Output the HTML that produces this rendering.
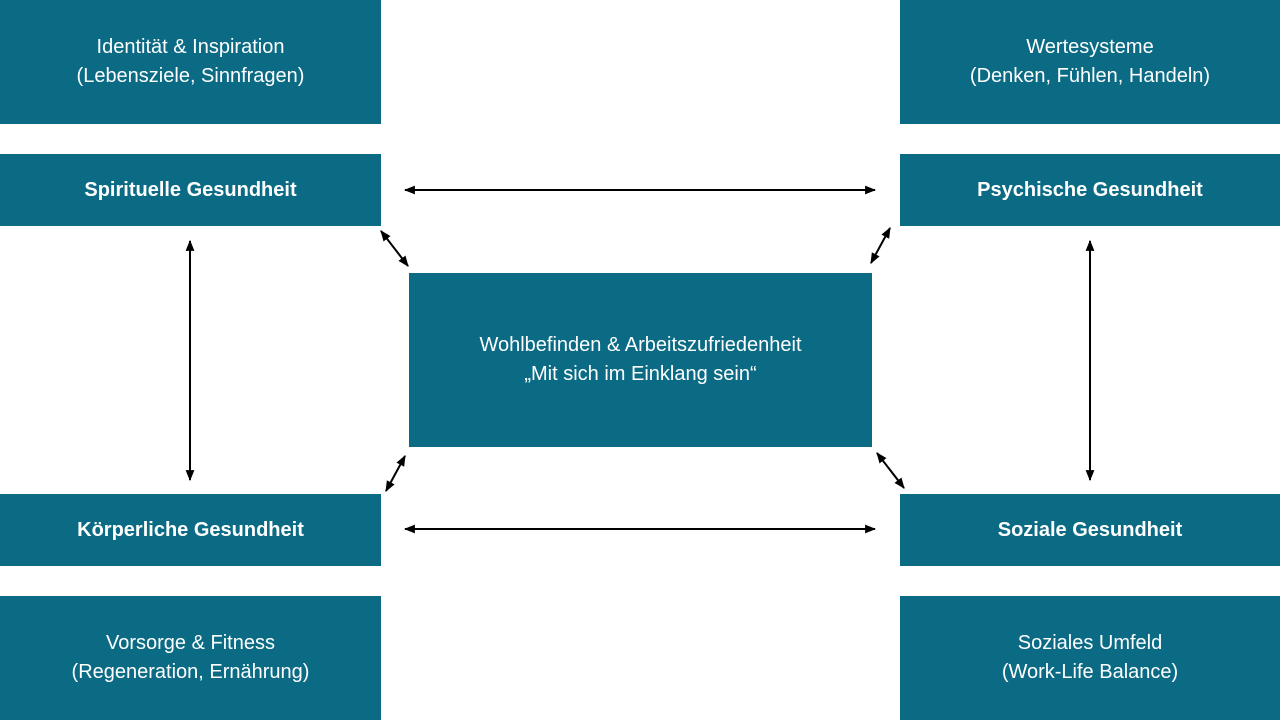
<!DOCTYPE html>
<html><head><meta charset="utf-8"><style>
html,body{margin:0;padding:0;width:1280px;height:720px;background:#fff;overflow:hidden;position:relative;font-family:"Liberation Sans",sans-serif}
.b{position:absolute;background:#0b6b85;color:#fff;display:flex;align-items:center;justify-content:center;text-align:center;font-size:20px;line-height:29px}
.h{font-weight:bold;font-size:20px}
svg{position:absolute;left:0;top:0}
</style></head><body>
<div class="b" style="left:0;top:0;width:381px;height:124px">Identität &amp; Inspiration<br>(Lebensziele, Sinnfragen)</div>
<div class="b" style="left:900px;top:0;width:380px;height:124px">Wertesysteme<br>(Denken, Fühlen, Handeln)</div>
<div class="b h" style="left:0;top:154px;width:381px;height:72px">Spirituelle Gesundheit</div>
<div class="b h" style="left:900px;top:154px;width:380px;height:72px">Psychische Gesundheit</div>
<div class="b" style="left:409px;top:273px;width:463px;height:174px">Wohlbefinden &amp; Arbeitszufriedenheit<br>„Mit sich im Einklang sein“</div>
<div class="b h" style="left:0;top:494px;width:381px;height:72px">Körperliche Gesundheit</div>
<div class="b h" style="left:900px;top:494px;width:380px;height:72px">Soziale Gesundheit</div>
<div class="b" style="left:0;top:596px;width:381px;height:124px">Vorsorge &amp; Fitness<br>(Regeneration, Ernährung)</div>
<div class="b" style="left:900px;top:596px;width:380px;height:124px">Soziales Umfeld<br>(Work-Life Balance)</div>
<svg width="1280" height="720">
<defs><marker id="a" viewBox="0 0 10 10" refX="9" refY="5" markerWidth="11" markerHeight="11" markerUnits="userSpaceOnUse" orient="auto-start-reverse"><path d="M0,1 L10,5 L0,9 z" fill="#000"/></marker></defs>
<g stroke="#000" stroke-width="2" marker-start="url(#a)" marker-end="url(#a)">
<line x1="405" y1="190" x2="875" y2="190"/>
<line x1="405" y1="529" x2="875" y2="529"/>
<line x1="190" y1="241" x2="190" y2="480"/>
<line x1="1090" y1="241" x2="1090" y2="480"/>
<line x1="381" y1="231" x2="408" y2="266"/>
<line x1="890" y1="228" x2="871" y2="263"/>
<line x1="405" y1="456" x2="386" y2="491"/>
<line x1="877" y1="453" x2="904" y2="488"/>
</g></svg>
</body></html>
